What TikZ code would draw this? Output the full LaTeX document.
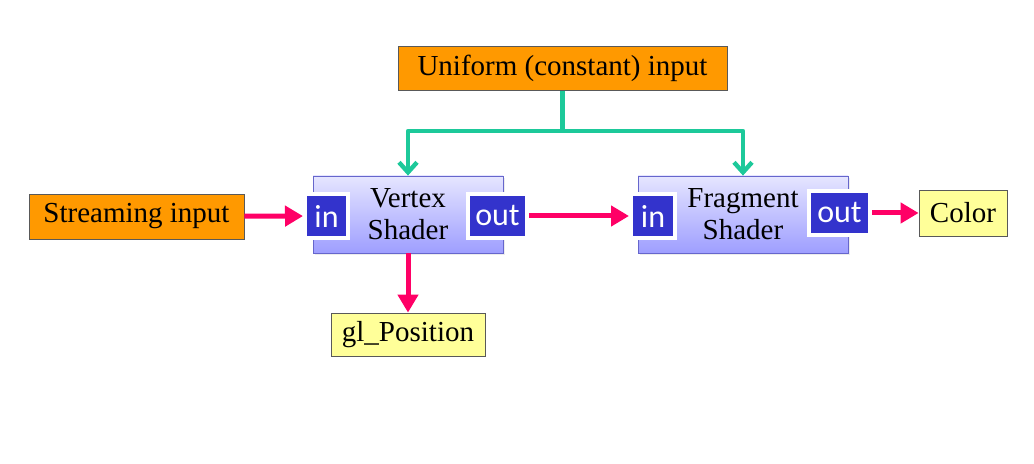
\documentclass[tikz,border=0pt]{standalone}
\usepackage{fontspec}
\setmainfont{Liberation Serif}
\newfontfamily\portfont{Carlito}
\usetikzlibrary{arrows.meta,shadows}
\definecolor{inorange}{HTML}{FF9900}
\definecolor{outyellow}{HTML}{FFFF99}
\definecolor{flowpink}{HTML}{FF0066}
\definecolor{unigreen}{HTML}{1DC99A}
\definecolor{portblue}{HTML}{3333CC}
\definecolor{shaderedge}{HTML}{6666CC}
\tikzset{font=\fontsize{14.5}{16}\selectfont}
\tikzstyle{inbox}=[draw=black!65,fill=inorange,inner sep=0pt,minimum height=22pt]
\tikzstyle{outbox}=[draw=black!65,fill=outyellow,inner sep=0pt,minimum height=22pt]
\tikzstyle{shader}=[draw=shaderedge,top color=blue!10,bottom color=blue!38,minimum height=38.5pt,align=center,inner sep=0pt,drop shadow={opacity=0.15,shadow xshift=0.8pt,shadow yshift=-0.8pt}]
\tikzstyle{port}=[draw=white,line width=2pt,fill=portblue,text=white,font=\portfont\fontsize{16}{16}\selectfont,minimum height=22pt,inner sep=0pt,drop shadow={opacity=0.25,shadow xshift=0.8pt,shadow yshift=-0.8pt}]
\tikzstyle{flow}=[line width=2.5pt,flowpink,-{Triangle[length=9pt,width=10pt]}]
\tikzstyle{uni}=[line width=2.2pt,unigreen,line join=round,-{Straight Barb[length=5pt,width=9pt]}]
\begin{document}
\begin{tikzpicture}[x=0.5pt,y=-0.5pt]
\useasboundingbox (0,0) rectangle (1034,464);
\node[inbox,minimum width=164.5pt] (uni) at (562.5,68.5) {Uniform (constant) input};
\node[inbox,minimum width=107.5pt,minimum height=22.5pt] (stream) at (136.5,216.5) {Streaming input};
\node[shader,minimum width=95pt] (vs) at (408,214.5) {Vertex\\Shader};
\node[shader,minimum width=105pt] (fs) at (743,214.5) {Fragment\\Shader};
\node[port,minimum width=21.5pt] (vin) at (326.5,216) {in};
\node[port,minimum width=29.5pt] (vout) at (497.5,216) {out};
\node[port,minimum width=22pt] (fin) at (653,216) {in};
\node[port,minimum width=30.5pt] (fout) at (839.5,213) {out};
\node[outbox,minimum width=44pt,minimum height=23pt] (color) at (963,213) {Color};
\node[outbox,minimum width=77pt,minimum height=21.5pt] (glpos) at (408,334.5) {gl\_Position};
\coordinate (split) at (562.5,131);
% uniform feeds both shaders
\draw[uni,-] (uni) -- (split);
\draw[uni] (split) -| (vs.north);
\draw[uni] (split) -| (fs.north);
% streaming data
\path[flow]
(stream) edge (vin)
(vout) edge (fin)
(fout) edge (color)
(vs) edge (glpos);
\end{tikzpicture}
\end{document}
